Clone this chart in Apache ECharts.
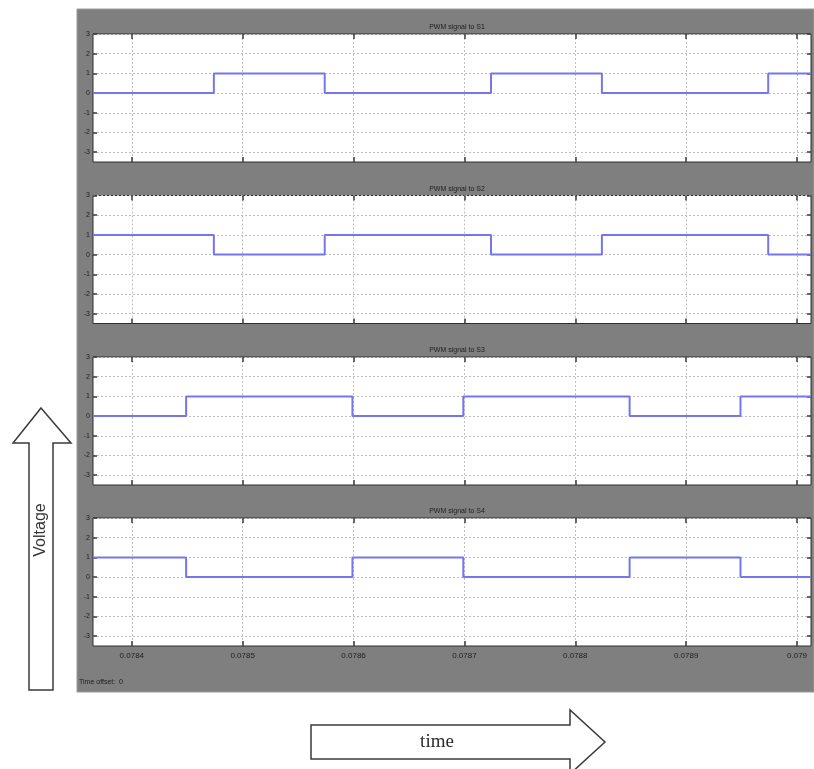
<!DOCTYPE html>
<html>
<head>
<meta charset="utf-8">
<script src="https://cdn.jsdelivr.net/npm/echarts@6/dist/echarts.min.js"></script>
<style>
  html, body { margin: 0; padding: 0; background: #ffffff; }
  #chart { width: 814px; height: 769px; }
</style>
</head>
<body>
<div id="chart"></div>
<script>
// ---- data ----
const panelTitles = ['PWM signal to S1', 'PWM signal to S2', 'PWM signal to S3', 'PWM signal to S4'];
const timeRange = [0.078365, 0.0790126];
const timeTicks = [0.0784, 0.0785, 0.0786, 0.0787, 0.0788, 0.0789, 0.079];
const timeTickLabels = ['0.0784', '0.0785', '0.0786', '0.0787', '0.0788', '0.0789', '0.079'];
const voltageRange = [-3.5, 3];
const voltageTicks = [-3, -2, -1, 0, 1, 2, 3];

// switching instants (s) and the gate level held from each instant onward
const s1Time  = [0.078365, 0.078474, 0.078574, 0.078724, 0.078824, 0.078974, 0.0790126];
const s1Level = [0, 1, 0, 1, 0, 1, 1];
const s2Time  = [0.078365, 0.078474, 0.078574, 0.078724, 0.078824, 0.078974, 0.0790126];
const s2Level = [1, 0, 1, 0, 1, 0, 0];
const s3Time  = [0.078365, 0.078449, 0.078599, 0.078699, 0.078849, 0.078949, 0.0790126];
const s3Level = [0, 1, 0, 1, 0, 1, 1];
const s4Time  = [0.078365, 0.078449, 0.078599, 0.078699, 0.078849, 0.078949, 0.0790126];
const s4Level = [1, 0, 1, 0, 1, 0, 0];

const signals = [[s1Time, s1Level], [s2Time, s2Level], [s3Time, s3Level], [s4Time, s4Level]];

// ---- layout ----
const plotLeft = 93, plotRight = 3, plotHeight = 128;
const plotTops = [34, 195.5, 357, 518];
const plotCenterX = plotLeft + (814 - plotLeft - plotRight) / 2;

const tickFont = 'Liberation Sans';
const gridLineStyle = { color: '#bdbdbd', width: 1, type: [2, 2] };
const tickStyle = { color: '#3a3a3a', width: 1.5 };

const grids = [], xAxes = [], yAxes = [], series = [], titles = [];

plotTops.forEach((top, i) => {
  grids.push({
    left: plotLeft, right: plotRight, top: top, height: plotHeight,
    show: true, backgroundColor: '#ffffff', borderColor: '#2e2e2e', borderWidth: 1
  });

  titles.push({
    text: panelTitles[i],
    left: plotCenterX, top: top - 15, textAlign: 'center',
    textStyle: { fontFamily: tickFont, fontSize: 7, fontWeight: 'normal', color: '#1e1e1e' }
  });

  // bottom time axis (labels only on the last panel)
  xAxes.push({
    type: 'value', gridIndex: i, position: 'bottom',
    min: timeRange[0], max: timeRange[1],
    axisLine: { show: false, onZero: false },
    axisTick: { show: true, inside: true, length: 5, lineStyle: tickStyle, customValues: timeTicks },
    axisLabel: {
      show: i === 3, customValues: timeTicks, margin: 6,
      fontFamily: tickFont, fontSize: 8, color: '#1e1e1e',
      formatter: v => {
        const k = timeTicks.findIndex(t => Math.abs(t - v) < 1e-9);
        return k >= 0 ? timeTickLabels[k] : '';
      }
    },
    splitLine: { show: true, lineStyle: gridLineStyle }
  });
  // top mirror axis: tick marks only
  xAxes.push({
    type: 'value', gridIndex: i, position: 'top',
    min: timeRange[0], max: timeRange[1],
    axisLine: { show: false, onZero: false },
    axisTick: { show: true, inside: true, length: 5, lineStyle: tickStyle, customValues: timeTicks },
    axisLabel: { show: false, customValues: timeTicks },
    splitLine: { show: false }
  });

  // left voltage axis
  yAxes.push({
    type: 'value', gridIndex: i, position: 'left',
    min: voltageRange[0], max: voltageRange[1],
    axisLine: { show: false, onZero: false },
    axisTick: { show: true, inside: true, length: 4, lineStyle: tickStyle, customValues: voltageTicks },
    axisLabel: {
      show: true, customValues: voltageTicks, margin: 3,
      fontFamily: tickFont, fontSize: 7, color: '#1e1e1e'
    },
    splitLine: { show: true, lineStyle: gridLineStyle }
  });
  // right mirror axis: tick marks only
  yAxes.push({
    type: 'value', gridIndex: i, position: 'right',
    min: voltageRange[0], max: voltageRange[1],
    axisLine: { show: false, onZero: false },
    axisTick: { show: true, inside: true, length: 4, lineStyle: tickStyle, customValues: voltageTicks },
    axisLabel: { show: false, customValues: voltageTicks },
    splitLine: { show: false }
  });

  const [t, v] = signals[i];
  series.push({
    type: 'line', name: panelTitles[i],
    xAxisIndex: 2 * i, yAxisIndex: 2 * i,
    step: 'end', symbol: 'none', silent: true,
    lineStyle: { color: '#7676ec', width: 2 },
    data: t.map((x, k) => [x, v[k]])
  });
});

const option = {
  animation: false,
  backgroundColor: '#ffffff',
  title: titles,
  grid: grids,
  xAxis: xAxes,
  yAxis: yAxes,
  series: series,
  graphic: [
    // scope frame
    { type: 'rect', z: -100, shape: { x: 77, y: 9, width: 737, height: 683 },
      style: { fill: '#7f7f7f', stroke: '#9a9a9a', lineWidth: 1 } },
    { type: 'text', x: 79, y: 679,
      style: { text: 'Time offset:  0', fontFamily: tickFont, fontSize: 7, fill: '#1e1e1e' } },
    // voltage arrow
    { type: 'polygon',
      shape: { points: [[41, 408], [71, 443], [53, 443], [53, 690], [29, 690], [29, 443], [13, 443]] },
      style: { fill: '#ffffff', stroke: '#3a3a3a', lineWidth: 1.5 } },
    { type: 'text', x: 41, y: 530, rotation: Math.PI / 2,
      style: { text: 'Voltage', fontFamily: 'Liberation Sans', fontSize: 16, fill: '#333333',
               align: 'center', verticalAlign: 'middle' } },
    // time arrow
    { type: 'polygon',
      shape: { points: [[311, 725], [570, 725], [570, 710], [605, 742], [570, 774], [570, 759], [311, 759]] },
      style: { fill: '#ffffff', stroke: '#3a3a3a', lineWidth: 1.5 } },
    { type: 'text', x: 437, y: 742,
      style: { text: 'time', fontFamily: 'Liberation Serif', fontSize: 19, fill: '#2a2a2a',
               align: 'center', verticalAlign: 'middle' } }
  ]
};

const chart = echarts.init(document.getElementById('chart'), null, { renderer: 'canvas' });
chart.setOption(option);
</script>
</body>
</html>
